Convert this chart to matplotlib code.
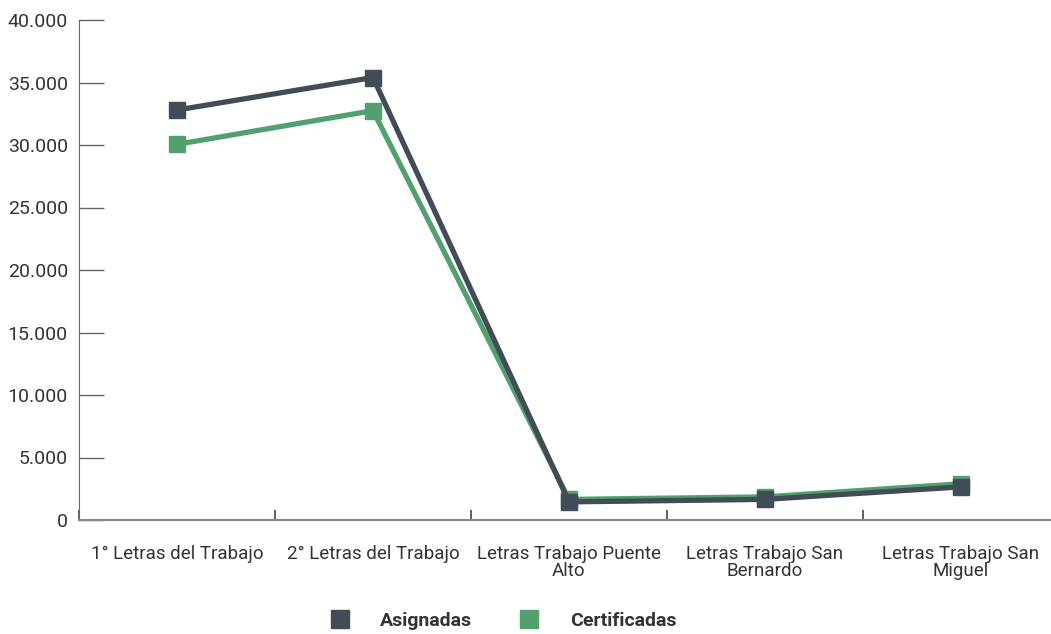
import matplotlib
matplotlib.use("Agg")
import matplotlib.pyplot as plt
from matplotlib.ticker import FuncFormatter, FixedLocator
from matplotlib.lines import Line2D

categories = ["1° Letras del Trabajo", "2° Letras del Trabajo",
              "Letras Trabajo Puente\nAlto", "Letras Trabajo San\nBernardo",
              "Letras Trabajo San\nMiguel"]
asignadas = [32800, 35400, 1450, 1650, 2650]
certificadas = [30050, 32750, 1650, 1850, 2900]

DARK = "#414C57"
GREEN = "#52A06E"
TXT = "#333333"

plt.rcParams["font.family"] = ["Roboto", "DejaVu Sans"]

fig = plt.figure(figsize=(10.51, 6.34), dpi=100)
ax = fig.add_axes([79/1051, 1 - 520/634, (1059 - 79)/1051, 500/634])

x = list(range(len(categories)))
ax.plot(x, certificadas, color=GREEN, lw=3.8, marker="s", ms=12, zorder=2)
ax.plot(x, asignadas, color=DARK, lw=3.8, marker="s", ms=12, zorder=3)

ax.set_xlim(-0.5, len(categories) - 0.5)
ax.set_ylim(0, 40000)
for s in ["top", "right"]:
    ax.spines[s].set_visible(False)
ax.spines["left"].set_color("#666666")
ax.spines["bottom"].set_color("#888888")
ax.spines["bottom"].set_linewidth(1.5)

ax.yaxis.set_major_locator(FixedLocator(range(0, 40001, 5000)))
ax.yaxis.set_major_formatter(FuncFormatter(lambda v, p: f"{int(v):,}".replace(",", ".")))
ax.tick_params(axis="y", direction="in", length=18, width=1, color="#666666",
               labelsize=14, labelcolor=TXT, pad=8)

ax.xaxis.set_major_locator(FixedLocator([i - 0.5 for i in range(len(categories) + 1)]))
ax.xaxis.set_major_formatter(FuncFormatter(lambda v, p: ""))
ax.xaxis.set_minor_locator(FixedLocator(x))
ax.set_xticklabels(categories, minor=True)
ax.tick_params(axis="x", which="major", direction="in", length=7, width=1.2, color="#444444")
ax.tick_params(axis="x", which="minor", length=0, labelsize=13.5, labelcolor=TXT, pad=18)
for lab in ax.get_xticklabels(minor=True):
    lab.set_linespacing(0.9)

handles = [Line2D([], [], color=DARK, marker="s", ms=13, lw=0),
           Line2D([], [], color=GREEN, marker="s", ms=13, lw=0)]
leg = fig.legend(handles, ["Asignadas", "Certificadas"], loc="center",
                 bbox_to_anchor=(503/1051, 1 - 621/634), ncol=2, frameon=False,
                 fontsize=14, handletextpad=1.6, columnspacing=2.4, handlelength=1)
for t in leg.get_texts():
    t.set_color(TXT)
    t.set_fontweight("bold")

fig.savefig("out.png", dpi=100)
